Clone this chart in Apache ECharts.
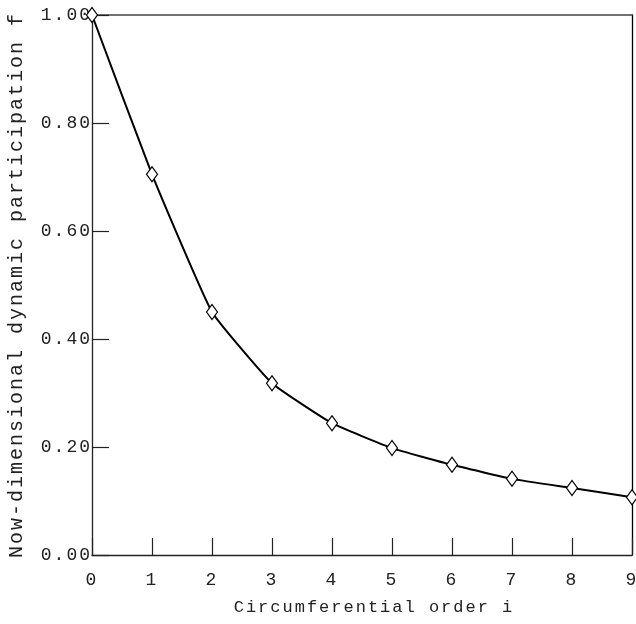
<!DOCTYPE html>
<html>
<head>
<meta charset="utf-8">
<script src="https://cdn.jsdelivr.net/npm/echarts@6/dist/echarts.min.js"></script>
<style>
  html, body { margin: 0; padding: 0; background: #fff; }
  #chart { width: 636px; height: 624px; }
</style>
</head>
<body>
<div id="chart"></div>
<script>
// circumferential order i
const orders = [0, 1, 2, 3, 4, 5, 6, 7, 8, 9]
// non-dimensional dynamic participation factor
const factors = [1.0, 0.705, 0.45, 0.318, 0.244, 0.198, 0.167, 0.141, 0.124, 0.107]
const yTicks = [0, 0.2, 0.4, 0.6, 0.8, 1.0]

const font = 'Liberation Mono'
const axisColor = '#222'

// the original text is letter-spaced, let canvas add it when text is drawn
const fillText = CanvasRenderingContext2D.prototype.fillText
CanvasRenderingContext2D.prototype.fillText = function() {
  this.letterSpacing = '2px'
  return fillText.apply(this, arguments)
}

const myChart = echarts.init(document.getElementById('chart'))

const points = orders.map((x, i) => [x, factors[i]])

const option = {
  animation: false,
  backgroundColor: '#fff',
  grid: {
    left: 92,
    right: 4,
    top: 15,
    bottom: 69,
    outerBoundsMode: 'none'
  },
  xAxis: [
    {
      type: 'value',
      min: 0,
      max: 9,
      interval: 1,
      name: 'Circumferential order i',
      nameLocation: 'middle',
      nameGap: 44,
      nameTextStyle: {
        fontFamily: font,
        fontSize: 17,
        color: '#222',
        padding: [0, 0, 0, 24]
      },
      axisLine: { onZero: false, lineStyle: { color: axisColor, width: 1.3 } },
      axisTick: { inside: true, length: 17, lineStyle: { color: axisColor, width: 1.2 } },
      axisLabel: {
        margin: 16,
        fontFamily: font,
        fontSize: 18,
        color: '#222'
      },
      splitLine: { show: false }
    },
    {
      type: 'value',
      position: 'top',
      min: 0,
      max: 9,
      interval: 1,
      axisLine: { show: true, onZero: false, lineStyle: { color: '#444', width: 1.5 } },
      axisTick: { show: false },
      axisLabel: { show: false },
      splitLine: { show: false }
    }
  ],
  yAxis: [
    {
      type: 'value',
      min: yTicks[0],
      max: yTicks[yTicks.length - 1],
      interval: 0.2,
      name: 'Now-dimensional dynamic participation f',
      nameLocation: 'middle',
      nameGap: 65,
      nameTextStyle: {
        fontFamily: font,
        fontSize: 20,
        color: '#222'
      },
      axisLine: { show: true, onZero: false, lineStyle: { color: axisColor, width: 1.3 } },
      axisTick: { inside: true, length: 17, lineStyle: { color: axisColor, width: 1.2 } },
      axisLabel: {
        margin: 0,
        fontFamily: font,
        fontSize: 18,
        color: '#222',
        formatter: v => v.toFixed(2)
      },
      splitLine: { show: false }
    },
    {
      type: 'value',
      position: 'right',
      min: 0,
      max: 1,
      interval: 0.2,
      axisLine: { show: true, onZero: false, lineStyle: { color: '#000', width: 1.3 } },
      axisTick: { show: false },
      axisLabel: { show: false },
      splitLine: { show: false }
    }
  ],
  series: [
    {
      type: 'line',
      data: points,
      smooth: 0.12,
      clip: false,
      symbol: 'diamond',
      symbolSize: [11, 15],
      lineStyle: {
        color: '#000',
        width: 2
      },
      itemStyle: {
        color: '#fff',
        borderColor: '#000',
        borderWidth: 1.2
      },
      z: 5
    }
  ]
}

myChart.setOption(option)
</script>
</body>
</html>
